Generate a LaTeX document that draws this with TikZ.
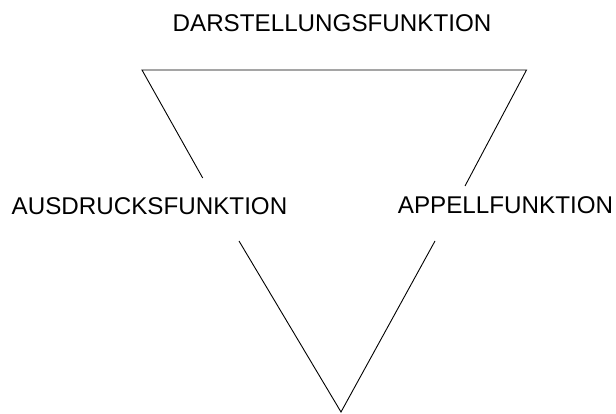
\documentclass[tikz,border=0pt]{standalone}
\usepackage{fontspec}
\setmainfont{Liberation Sans}
\begin{document}
\begin{tikzpicture}[x=1pt,y=-1pt,
  lbl/.style={anchor=base,inner sep=0pt,font=\fontsize{24.2}{29}\selectfont},
  edge/.style={line width=0.9pt,black}]
\useasboundingbox (0,0) rectangle (616,414);
\node[lbl] (dar) at (332,32) {DARSTELLUNGSFUNKTION};
\node[lbl] (aus) at (149.5,215) {AUSDRUCKSFUNKTION};
\node[lbl] (app) at (505.5,214) {APPELLFUNKTION};
\coordinate (tl) at (142,70);
\coordinate (tr) at (526.5,70);
\coordinate (bot) at (341,412);
\coordinate (lu) at (202.7,178);
\coordinate (ll) at (239,241);
\coordinate (ru) at (465,186);
\coordinate (rl) at (435,241);
\draw[edge] (lu) -- (tl) -- (tr) -- (ru);
\draw[edge] (ll) -- (bot) -- (rl);
\end{tikzpicture}
\end{document}
